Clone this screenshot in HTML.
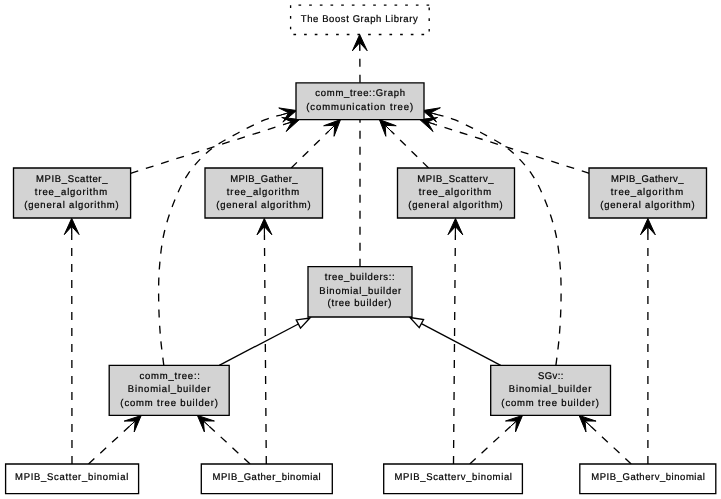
<!DOCTYPE html>
<html><head><meta charset="utf-8"><style>
html,body{margin:0;padding:0;background:#fff;width:721px;height:499px;overflow:hidden}
svg{display:block;will-change:transform}
</style></head><body>
<svg width="721" height="499" viewBox="0 0 721 499">
<rect width="721" height="499" fill="#fff"/>
<path d="M359.70,34.50 L367.20,50.75 L359.75,42.65 L359.80,50.80 L359.75,42.65 L352.40,50.85Z" fill="#000" stroke="#000" stroke-width="1.0"/>
<path d="M360.00,82.80 L359.80,50.80" fill="none" stroke="#000" stroke-width="1.33" stroke-dasharray="8,8"/>
<path d="M299.50,119.50 L286.21,131.50 L291.73,121.97 L283.97,124.45 L291.73,121.97 L281.72,117.40Z" fill="#000" stroke="#000" stroke-width="1.0"/>
<path d="M130.60,173.30 L283.97,124.45" fill="none" stroke="#000" stroke-width="1.33" stroke-dasharray="8,8"/>
<path d="M340.50,119.60 L334.05,136.30 L334.68,125.31 L328.87,131.02 L334.68,125.31 L323.68,125.74Z" fill="#000" stroke="#000" stroke-width="1.0"/>
<path d="M291.20,168.00 L328.87,131.02" fill="none" stroke="#000" stroke-width="1.33" stroke-dasharray="8,8"/>
<path d="M379.40,119.60 L396.21,125.76 L385.21,125.32 L391.02,131.03 L385.21,125.32 L385.83,136.31Z" fill="#000" stroke="#000" stroke-width="1.0"/>
<path d="M428.60,168.00 L391.02,131.03" fill="none" stroke="#000" stroke-width="1.33" stroke-dasharray="8,8"/>
<path d="M419.80,119.60 L437.57,117.47 L427.57,122.06 L435.34,124.52 L427.57,122.06 L433.11,131.58Z" fill="#000" stroke="#000" stroke-width="1.0"/>
<path d="M589.40,173.30 L435.34,124.52" fill="none" stroke="#000" stroke-width="1.33" stroke-dasharray="8,8"/>
<path d="M360.00,266.70 L360.00,119.70" fill="none" stroke="#000" stroke-width="1.33" stroke-dasharray="8,8"/>
<path d="M309.90,318.00 L300.50,328.09 L296.25,319.93Z" fill="#fff" stroke="#000" stroke-width="1.33"/>
<path d="M219.20,365.30 L298.37,324.01" fill="none" stroke="#000" stroke-width="1.33"/>
<path d="M409.90,317.50 L423.55,319.49 L419.26,327.63Z" fill="#fff" stroke="#000" stroke-width="1.33"/>
<path d="M500.70,365.30 L421.40,323.56" fill="none" stroke="#000" stroke-width="1.33"/>
<path d="M296.50,110.50 L282.90,122.14 L288.67,112.77 L280.84,115.03 L288.67,112.77 L278.78,107.93Z" fill="#000" stroke="#000" stroke-width="1.0"/>
<path d="M163.80,365.30 C163.23,360.42 161.25,346.55 160.40,336.00 C159.55,325.45 158.87,313.33 158.70,302.00 C158.53,290.67 158.53,279.33 159.40,268.00 C160.27,256.67 161.47,244.98 163.90,234.00 C166.33,223.02 169.98,212.08 174.00,202.10 C178.02,192.12 182.00,182.78 188.00,174.10 C194.00,165.42 201.67,156.85 210.00,150.00 C218.33,143.15 228.80,138.05 238.00,133.00 C247.20,127.95 258.06,122.69 265.20,119.70 C272.34,116.71 278.24,115.81 280.84,115.03" fill="none" stroke="#000" stroke-width="1.33" stroke-dasharray="8,8"/>
<path d="M422.70,110.60 L440.37,107.76 L430.56,112.75 L438.42,114.90 L430.56,112.75 L436.47,122.04Z" fill="#000" stroke="#000" stroke-width="1.0"/>
<path d="M555.90,365.30 C556.47,360.42 558.45,346.55 559.30,336.00 C560.15,325.45 560.83,313.33 561.00,302.00 C561.17,290.67 561.17,279.33 560.30,268.00 C559.43,256.67 558.23,244.98 555.80,234.00 C553.37,223.02 549.72,212.08 545.70,202.10 C541.68,192.12 537.70,182.78 531.70,174.10 C525.70,165.42 518.03,156.85 509.70,150.00 C501.37,143.15 490.90,138.05 481.70,133.00 C472.50,127.95 461.71,122.72 454.50,119.70 C447.29,116.68 441.10,115.70 438.42,114.90" fill="none" stroke="#000" stroke-width="1.33" stroke-dasharray="8,8"/>
<path d="M71.70,218.30 L79.12,234.59 L71.71,226.45 L71.72,234.60 L71.71,226.45 L64.32,234.61Z" fill="#000" stroke="#000" stroke-width="1.0"/>
<path d="M72.00,464.00 L71.72,234.60" fill="none" stroke="#000" stroke-width="1.33" stroke-dasharray="8,8"/>
<path d="M141.20,415.50 L134.22,431.98 L135.20,421.02 L129.21,426.54 L135.20,421.02 L124.20,421.09Z" fill="#000" stroke="#000" stroke-width="1.0"/>
<path d="M88.50,464.00 L129.21,426.54" fill="none" stroke="#000" stroke-width="1.33" stroke-dasharray="8,8"/>
<path d="M264.30,218.50 L271.83,234.74 L264.37,226.65 L264.43,234.80 L264.37,226.65 L257.03,234.86Z" fill="#000" stroke="#000" stroke-width="1.0"/>
<path d="M266.30,464.00 L264.43,234.80" fill="none" stroke="#000" stroke-width="1.33" stroke-dasharray="8,8"/>
<path d="M197.40,415.40 L214.40,421.01 L203.39,420.93 L209.38,426.45 L203.39,420.93 L204.37,431.89Z" fill="#000" stroke="#000" stroke-width="1.0"/>
<path d="M250.10,464.00 L209.38,426.45" fill="none" stroke="#000" stroke-width="1.33" stroke-dasharray="8,8"/>
<path d="M455.50,218.50 L462.77,234.86 L455.43,226.65 L455.37,234.80 L455.43,226.65 L447.97,234.74Z" fill="#000" stroke="#000" stroke-width="1.0"/>
<path d="M453.50,464.00 L455.37,234.80" fill="none" stroke="#000" stroke-width="1.33" stroke-dasharray="8,8"/>
<path d="M522.50,415.40 L515.53,431.89 L516.51,420.93 L510.52,426.45 L516.51,420.93 L505.50,421.01Z" fill="#000" stroke="#000" stroke-width="1.0"/>
<path d="M469.80,464.00 L510.52,426.45" fill="none" stroke="#000" stroke-width="1.33" stroke-dasharray="8,8"/>
<path d="M647.90,218.50 L655.30,234.80 L647.90,226.65 L647.90,234.80 L647.90,226.65 L640.50,234.80Z" fill="#000" stroke="#000" stroke-width="1.0"/>
<path d="M647.90,464.00 L647.90,234.80" fill="none" stroke="#000" stroke-width="1.33" stroke-dasharray="8,8"/>
<path d="M579.10,415.40 L596.07,421.11 L585.06,420.96 L591.02,426.52 L585.06,420.96 L585.97,431.93Z" fill="#000" stroke="#000" stroke-width="1.0"/>
<path d="M631.20,464.00 L591.02,426.52" fill="none" stroke="#000" stroke-width="1.33" stroke-dasharray="8,8"/>
<path d="M429.2,5.2H290.6V34.5H429.2Z" fill="#fff" stroke="#000" stroke-width="1.33" stroke-dasharray="2.67,8"/>
<path d="M296,82.8H424V119.7H296Z" fill="#d3d3d3" stroke="#000" stroke-width="1.33"/>
<path d="M13.5,168H130.6V218H13.5Z" fill="#d3d3d3" stroke="#000" stroke-width="1.33"/>
<path d="M205,168H322.5V218H205Z" fill="#d3d3d3" stroke="#000" stroke-width="1.33"/>
<path d="M397.5,168H514.5V218H397.5Z" fill="#d3d3d3" stroke="#000" stroke-width="1.33"/>
<path d="M589,168H706.5V218H589Z" fill="#d3d3d3" stroke="#000" stroke-width="1.33"/>
<path d="M308,266.7H412V317H308Z" fill="#d3d3d3" stroke="#000" stroke-width="1.33"/>
<path d="M109.2,365.3H229.2V415.3H109.2Z" fill="#d3d3d3" stroke="#000" stroke-width="1.33"/>
<path d="M490.7,365.3H610.5V415.3H490.7Z" fill="#d3d3d3" stroke="#000" stroke-width="1.33"/>
<path d="M5.6,464H138.6V493.6H5.6Z" fill="#fff" stroke="#000" stroke-width="1.33"/>
<path d="M201.3,464H332.3V493.6H201.3Z" fill="#fff" stroke="#000" stroke-width="1.33"/>
<path d="M383.7,464H522.4V493.6H383.7Z" fill="#fff" stroke="#000" stroke-width="1.33"/>
<path d="M579.8,464H715.8V493.6H579.8Z" fill="#fff" stroke="#000" stroke-width="1.33"/>
<g font-family="Liberation Sans, sans-serif" font-size="10" text-anchor="middle" fill="#000" stroke="#000" stroke-width="0.22" text-rendering="geometricPrecision">
<text transform="translate(359.3,22.06) scale(0.95,0.98)" x="0" y="0" textLength="123.05" lengthAdjust="spacing">The Boost Graph Library</text>
<text transform="translate(360.15,96.2) scale(0.95,0.98)" x="0" y="0" textLength="94.32" lengthAdjust="spacing">comm_tree::Graph</text>
<text transform="translate(359.7,109.6) scale(0.95,0.98)" x="0" y="0" textLength="112.53" lengthAdjust="spacing">(communication tree)</text>
<text transform="translate(71.75,182.1) scale(0.95,0.98)" x="0" y="0" textLength="75.16" lengthAdjust="spacing">MPIB_Scatter_</text>
<text transform="translate(71.0,195.0) scale(0.95,0.98)" x="0" y="0" textLength="76.11" lengthAdjust="spacing">tree_algorithm</text>
<text transform="translate(71.45,207.8) scale(0.95,0.98)" x="0" y="0" textLength="99.58" lengthAdjust="spacing">(general algorithm)</text>
<text transform="translate(263.85,182.1) scale(0.95,0.98)" x="0" y="0" textLength="70.95" lengthAdjust="spacing">MPIB_Gather_</text>
<text transform="translate(262.98,195.0) scale(0.95,0.98)" x="0" y="0" textLength="76.16" lengthAdjust="spacing">tree_algorithm</text>
<text transform="translate(263.45,207.8) scale(0.95,0.98)" x="0" y="0" textLength="99.58" lengthAdjust="spacing">(general algorithm)</text>
<text transform="translate(455.4,182.1) scale(0.95,0.98)" x="0" y="0" textLength="80.32" lengthAdjust="spacing">MPIB_Scatterv_</text>
<text transform="translate(454.98,195.0) scale(0.95,0.98)" x="0" y="0" textLength="76.16" lengthAdjust="spacing">tree_algorithm</text>
<text transform="translate(455.45,207.8) scale(0.95,0.98)" x="0" y="0" textLength="99.58" lengthAdjust="spacing">(general algorithm)</text>
<text transform="translate(647.2,182.1) scale(0.95,0.98)" x="0" y="0" textLength="76.32" lengthAdjust="spacing">MPIB_Gatherv_</text>
<text transform="translate(646.98,195.0) scale(0.95,0.98)" x="0" y="0" textLength="76.16" lengthAdjust="spacing">tree_algorithm</text>
<text transform="translate(647.45,207.8) scale(0.95,0.98)" x="0" y="0" textLength="99.58" lengthAdjust="spacing">(general algorithm)</text>
<text transform="translate(359.75,279.8) scale(0.95,0.98)" x="0" y="0" textLength="73.47" lengthAdjust="spacing">tree_builders::</text>
<text transform="translate(360.3,294.2) scale(0.95,0.98)" x="0" y="0" textLength="86.21" lengthAdjust="spacing">Binomial_builder</text>
<text transform="translate(359.45,305.8) scale(0.95,0.98)" x="0" y="0" textLength="67.16" lengthAdjust="spacing">(tree builder)</text>
<text transform="translate(169.75,378.8) scale(0.95,0.98)" x="0" y="0" textLength="63.58" lengthAdjust="spacing">comm_tree::</text>
<text transform="translate(169.1,391.9) scale(0.95,0.98)" x="0" y="0" textLength="86.84" lengthAdjust="spacing">Binomial_builder</text>
<text transform="translate(169.1,405.6) scale(0.95,0.98)" x="0" y="0" textLength="102.63" lengthAdjust="spacing">(comm tree builder)</text>
<text transform="translate(550.65,378.8) scale(0.95,0.98)" x="0" y="0" textLength="26.74" lengthAdjust="spacing">SGv::</text>
<text transform="translate(550.1,391.9) scale(0.95,0.98)" x="0" y="0" textLength="86.84" lengthAdjust="spacing">Binomial_builder</text>
<text transform="translate(550.1,405.6) scale(0.95,0.98)" x="0" y="0" textLength="102.63" lengthAdjust="spacing">(comm tree builder)</text>
<text transform="translate(71.65,479.7) scale(0.95,0.98)" x="0" y="0" textLength="119.16" lengthAdjust="spacing">MPIB_Scatter_binomial</text>
<text transform="translate(266.65,479.7) scale(0.95,0.98)" x="0" y="0" textLength="113.89" lengthAdjust="spacing">MPIB_Gather_binomial</text>
<text transform="translate(453.25,479.7) scale(0.95,0.98)" x="0" y="0" textLength="123.58" lengthAdjust="spacing">MPIB_Scatterv_binomial</text>
<text transform="translate(648.1,479.7) scale(0.95,0.98)" x="0" y="0" textLength="119.68" lengthAdjust="spacing">MPIB_Gatherv_binomial</text>
</g>
</svg>
</body></html>
